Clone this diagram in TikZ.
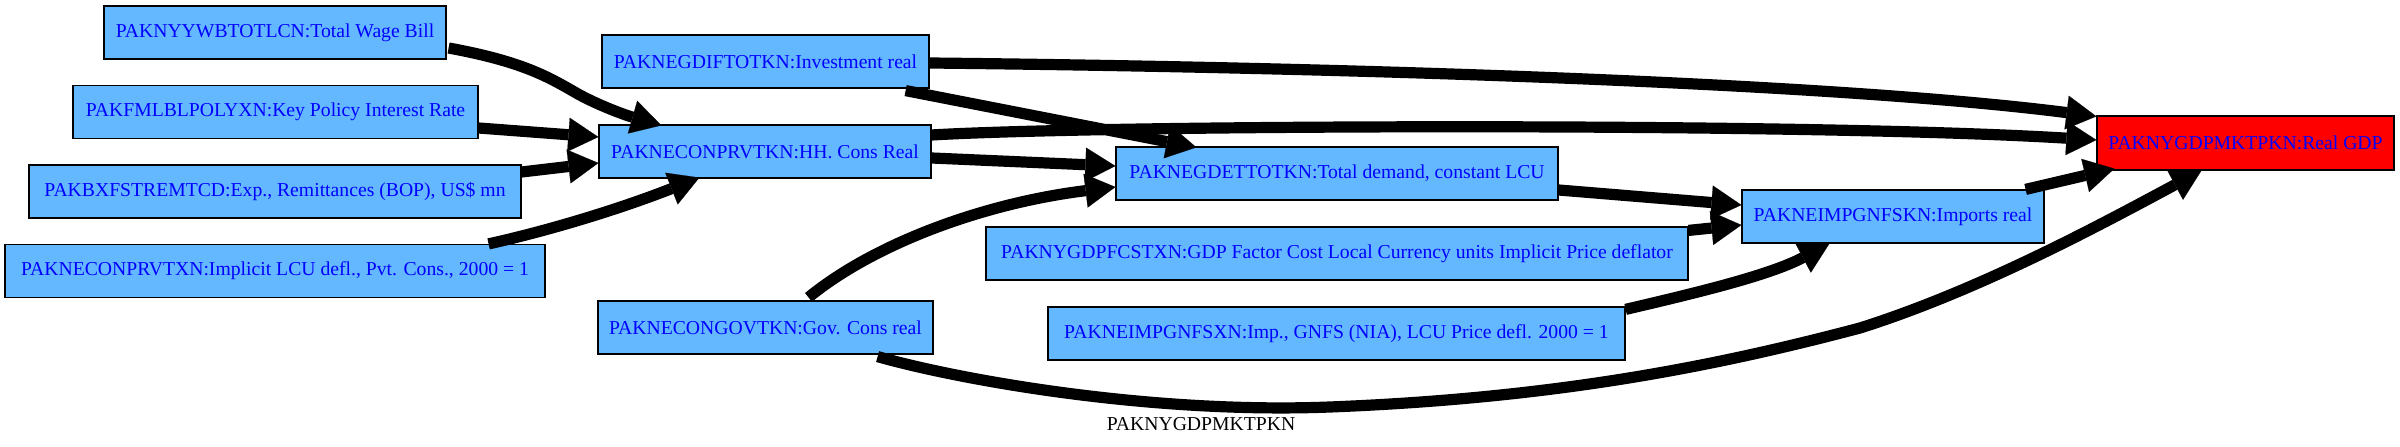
\documentclass[tikz,border=0pt]{standalone}
\usepackage{fontspec}
\setmainfont{Liberation Serif}
\usetikzlibrary{arrows.meta,calc}
\definecolor{nodefill}{RGB}{99,184,255}
\begin{document}
\begin{tikzpicture}[x=0.25mm,y=-0.25mm,
  box/.style={draw=black, line width=0.3mm, fill=nodefill, text=blue, inner sep=0pt,
    minimum height=13.25mm, font=\fontsize{14}{16}\selectfont},
  edge/.style={line width=2.8mm, -{Triangle[length=7.5mm,width=8.5mm,line width=0.1pt]}},
  titlelbl/.style={text=black, inner sep=0pt, font=\fontsize{14}{16}\selectfont}]
\useasboundingbox (0,0) rectangle (2400,447);

\node[box, minimum width=85.5mm]   (ywb)    at (275,32.5)    {PAKNYYWBTOTLCN:Total Wage Bill};
\node[box, minimum width=101.25mm] (fml)    at (275.5,112)   {PAKFMLBLPOLYXN:Key Policy Interest Rate};
\node[box, minimum width=123mm]    (bxf)    at (275,191.5)   {PAKBXFSTREMTCD:Exp., Remittances (BOP), US\$ mn};
\node[box, minimum width=135mm]    (prvtxn) at (275,271)     {PAKNECONPRVTXN:Implicit LCU defl., Pvt. Cons., 2000 = 1};
\node[box, minimum width=81.75mm]  (negdif) at (765.5,61.5)  {PAKNEGDIFTOTKN:Investment real};
\node[box, minimum width=83mm]     (prvtkn) at (765,151.5)   {PAKNECONPRVTKN:HH. Cons Real};
\node[box, minimum width=83.75mm]  (gov)    at (765.5,327.5) {PAKNECONGOVTKN:Gov. Cons real};
\node[box, minimum width=110.5mm]  (negdet) at (1337,173.5)  {PAKNEGDETTOTKN:Total demand, constant LCU};
\node[box, minimum width=175.5mm]  (gdpfc)  at (1337,253.5)  {PAKNYGDPFCSTXN:GDP Factor Cost Local Currency units Implicit Price deflator};
\node[box, minimum width=144.25mm] (impsxn) at (1336.5,333.5) {PAKNEIMPGNFSXN:Imp., GNFS (NIA), LCU Price defl. 2000 = 1};
\node[box, minimum width=75.5mm]   (impskn) at (1893,216.5)  {PAKNEIMPGNFSKN:Imports real};
\node[box, fill=red, minimum width=74.25mm, minimum height=13.5mm] (gdp) at (2245.5,143) {PAKNYGDPMKTPKN:Real GDP};
\node[titlelbl] (title) at (1201,424) {PAKNYGDPMKTPKN};

\draw[edge] ($(ywb.east)+(2,15.5)$) .. controls (525,62) and (550,78) .. (578,94)
  .. controls (600,106) and (625,115) .. ($(prvtkn.north west)+(63,1)$);
\draw[edge] ($(fml.east)+(0,16)$) -- ($(prvtkn.west)+(0,-14.5)$);
\draw[edge] ($(bxf.east)+(0,-19.5)$) -- ($(prvtkn.west)+(0,11.5)$);
\draw[edge] ($(prvtxn.north east)+(-57,0)$) .. controls (560,228) and (630,205) .. ($(prvtkn.south west)+(101,-1)$);
\draw[edge] ($(negdif.east)+(0,1.5)$) .. controls (1400,68) and (1850,85) .. ($(gdp.north west)+(0,1)$);
\draw[edge] ($(negdif.south east)+(-24,2)$) -- ($(negdet.north west)+(81,1)$);
\draw[edge] ($(prvtkn.east)+(0,-16.5)$) .. controls (1100,125) and (1800,122) .. ($(gdp.west)+(0,-3)$);
\draw[edge] ($(prvtkn.east)+(0,6.5)$) -- ($(negdet.west)+(0,-7.5)$);
\draw[edge] ($(gov.north)+(43,-3)$) .. controls (875,243) and (985,203) .. ($(negdet.west)+(0,13.5)$);
\draw[edge] ($(gov.south east)+(-56,2)$) .. controls (960,380) and (1150,414) .. (1330,407)
  .. controls (1560,398) and (1720,365) .. (1860,328)
  .. controls (1980,290) and (2100,225) .. ($(gdp.south west)+(105,0)$);
\draw[edge] ($(negdet.east)+(0,16.5)$) -- ($(impskn.west)+(0,-11.5)$);
\draw[edge] ($(gdpfc.north east)+(0,4)$) -- ($(impskn.west)+(0,8.5)$);
\draw[edge] ($(impsxn.north east)+(0,3)$) .. controls (1700,292) and (1770,275) .. ($(impskn.south west)+(88,0)$);
\draw[edge] ($(impskn.north east)+(-19,0)$) -- ($(gdp.south west)+(18,-2)$);
\end{tikzpicture}
\end{document}
